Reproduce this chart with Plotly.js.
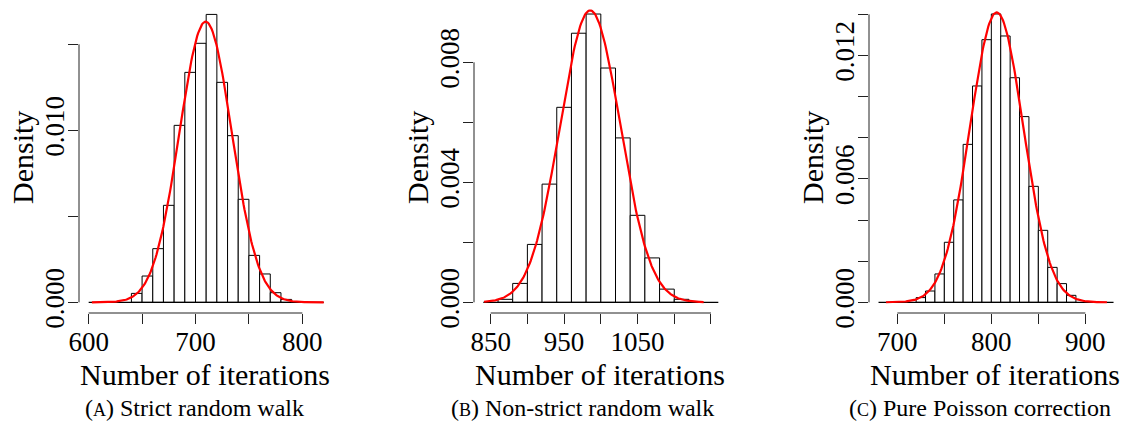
<!DOCTYPE html>
<html>
<head>
<meta charset="utf-8">
<script src="https://cdn.plot.ly/plotly-3.0.1.min.js"></script>
<style>html,body{margin:0;padding:0;background:#fff;}#chart{width:1127px;height:423px;}</style>
</head>
<body>
<div id="chart"></div>
<script>
// ---- Data ----
// (A) Strict random walk: histogram bins (left edges), width 10
const binsA = [640,650,660,670,680,690,700,710,720,730,740,750,760,770,780];
const densA = [0.00052,0.00153,0.00312,0.00564,0.01029,0.01337,0.01506,0.01674,0.01279,0.00969,0.00599,0.00273,0.00165,0.00056,0.00017];
const widthA = 10;
const fitA = {mean: 709.5, sd: 24.45, from: 603, to: 820};
const baseA = [600, 820];

// (B) Non-strict random walk: bins width 20
const binsB = [860,880,900,920,940,960,980,1000,1020,1040,1060,1080,1100];
const densB = [0.00010,0.00063,0.00193,0.00394,0.00650,0.00897,0.00961,0.00781,0.00548,0.00290,0.00148,0.00044,0.00010];
const widthB = 20;
const fitB = {mean: 985.5, sd: 41.0, from: 841, to: 1140};
const baseB = [840, 1160];

// (C) Pure Poisson correction: bins width 10
const binsC = [720,730,740,750,760,770,780,790,800,810,820,830,840,850,860,870,880];
const densC = [0.00023,0.00055,0.00138,0.00292,0.00498,0.00768,0.01052,0.01277,0.01402,0.01295,0.01092,0.00903,0.00564,0.00350,0.00170,0.00091,0.00034];
const widthC = 10;
const fitC = {mean: 805.7, sd: 28.3, from: 688, to: 923};
const baseC = [680, 930];

// Tick labels
const xTicksA = [600,650,700,750,800], xTextA = ['600','','700','','800'];
const yTicksA = [0,0.005,0.010,0.015], yTextA = ['0.000','','0.010',''];
const xTicksB = [850,900,950,1000,1050,1100,1150], xTextB = ['850','','950','','1050','',''];
const yTicksB = [0,0.002,0.004,0.006,0.008], yTextB = ['0.000','','0.004','','0.008'];
const xTicksC = [700,750,800,850,900], xTextC = ['700','','800','','900'];
const yTicksC = [0,0.002,0.004,0.006,0.008,0.010,0.012,0.014], yTextC = ['0.000','','','0.006','','','0.012',''];

const xTitle = 'Number of iterations';
const yTitle = 'Density';
const captions = ['(<span style="font-size:18px">A</span>) Strict random walk',
                  '(<span style="font-size:18px">B</span>) Non-strict random walk',
                  '(<span style="font-size:18px">C</span>) Pure Poisson correction'];

// ---- Build ----
const FONT = "'Liberation Serif', 'DejaVu Serif', serif";
const W = 1127, H = 423;

// fitted normal density curve (model drawn over the histogram)
function normalCurve(fit) {
  const xs = [], ys = [];
  const n = 240;
  for (let i = 0; i <= n; i++) {
    const x = fit.from + (fit.to - fit.from) * i / n;
    xs.push(x);
    ys.push(Math.exp(-0.5 * Math.pow((x - fit.mean) / fit.sd, 2)) / (fit.sd * Math.sqrt(2 * Math.PI)));
  }
  return {xs, ys};
}

const panels = [
  {bins: binsA, dens: densA, w: widthA, fit: fitA, base: baseA, xt: xTicksA, xtt: xTextA, yt: yTicksA, ytt: yTextA,
   pxL: 79, pxR: 330, xr: [590.95, 825.9], yr: [-0.00062, 0.017345], xline: [600, 800], ytop: 0.015},
  {bins: binsB, dens: densB, w: widthB, fit: fitB, base: baseB, xt: xTicksB, xtt: xTextB, yt: yTicksB, ytt: yTextB,
   pxL: 474, pxR: 725, xr: [827.3, 1169.1], yr: [-0.000356, 0.009944], xline: [850, 1150], ytop: 0.008},
  {bins: binsC, dens: densC, w: widthC, fit: fitC, base: baseC, xt: xTicksC, xtt: xTextC, yt: yTicksC, ytt: yTextC,
   pxL: 869, pxR: 1120, xr: [669.86, 936.88], yr: [-0.000519, 0.014505], xline: [700, 900], ytop: 0.014}
];

const captionX = [194, 582, 980];

const traces = [];
const layout = {
  width: W, height: H,
  margin: {l: 0, r: 0, t: 0, b: 0},
  paper_bgcolor: '#fff', plot_bgcolor: '#fff',
  showlegend: false,
  bargap: 0,
  font: {family: FONT, size: 27, color: '#000'},
  shapes: [], annotations: []
};

const yDom = [(H - 313) / H, (H - 4) / H];

panels.forEach((p, i) => {
  const k = i === 0 ? '' : String(i + 1);
  const xa = 'x' + k, ya = 'y' + k;
  traces.push({
    type: 'bar', x: p.bins.map(b => b + p.w / 2), y: p.dens, width: p.w,
    marker: {color: '#ffffff', line: {color: '#000', width: 1}},
    xaxis: xa, yaxis: ya, hoverinfo: 'skip'
  });
  // baseline y = 0
  traces.push({
    type: 'scatter', mode: 'lines', x: p.base, y: [0, 0],
    line: {color: '#000', width: 1.2}, xaxis: xa, yaxis: ya, hoverinfo: 'skip'
  });
  const c = normalCurve(p.fit);
  traces.push({
    type: 'scatter', mode: 'lines', x: c.xs, y: c.ys,
    line: {color: '#ff0000', width: 2.2}, xaxis: xa, yaxis: ya, hoverinfo: 'skip'
  });

  layout['xaxis' + k] = {
    domain: [p.pxL / W, p.pxR / W], range: p.xr, anchor: ya,
    showgrid: false, zeroline: false, showline: false,
    tickmode: 'array', tickvals: p.xt, ticktext: p.xtt,
    ticks: 'outside', ticklen: 10, tickwidth: 1, tickcolor: '#222',
    tickfont: {family: FONT, size: 27, color: '#000'}, tickangle: 0,
    ticklabelstandoff: -5,
    fixedrange: true
  };
  layout['yaxis' + k] = {
    domain: yDom, range: p.yr, anchor: xa,
    showgrid: false, zeroline: false, showline: false,
    tickmode: 'array', tickvals: p.yt, ticktext: p.ytt,
    ticks: 'outside', ticklen: 10, tickwidth: 1, tickcolor: '#222',
    tickfont: {family: FONT, size: 27, color: '#000'}, tickangle: -90,
    ticklabelstandoff: -7,
    fixedrange: true
  };
  // axis lines (R style, spanning only the tick range)
  layout.shapes.push({type: 'line', xref: xa, yref: ya + ' domain', x0: p.xline[0], x1: p.xline[1], y0: 0, y1: 0,
    line: {color: '#222', width: 1}});
  layout.shapes.push({type: 'line', xref: xa + ' domain', yref: ya, x0: 0, x1: 0, y0: 0, y1: p.ytop,
    line: {color: '#222', width: 1}});
  // axis titles
  const cx = (p.pxL + p.pxR) / 2;
  layout.annotations.push({text: xTitle, xref: 'paper', yref: 'paper', x: cx / W, y: (H - 374) / H,
    xanchor: 'center', yanchor: 'middle', showarrow: false, font: {family: FONT, size: 30, color: '#000'}});
  layout.annotations.push({text: yTitle, xref: 'paper', yref: 'paper', x: (p.pxL - 57) / W, y: (H - 158) / H,
    xanchor: 'center', yanchor: 'middle', textangle: -90, showarrow: false, font: {family: FONT, size: 30, color: '#000'}});
  layout.annotations.push({text: captions[i], xref: 'paper', yref: 'paper', x: captionX[i] / W, y: 0,
    xanchor: 'center', yanchor: 'bottom', showarrow: false, font: {family: FONT, size: 24, color: '#000'}});
});

Plotly.newPlot('chart', traces, layout, {staticPlot: true, displayModeBar: false});
</script>
</body>
</html>
